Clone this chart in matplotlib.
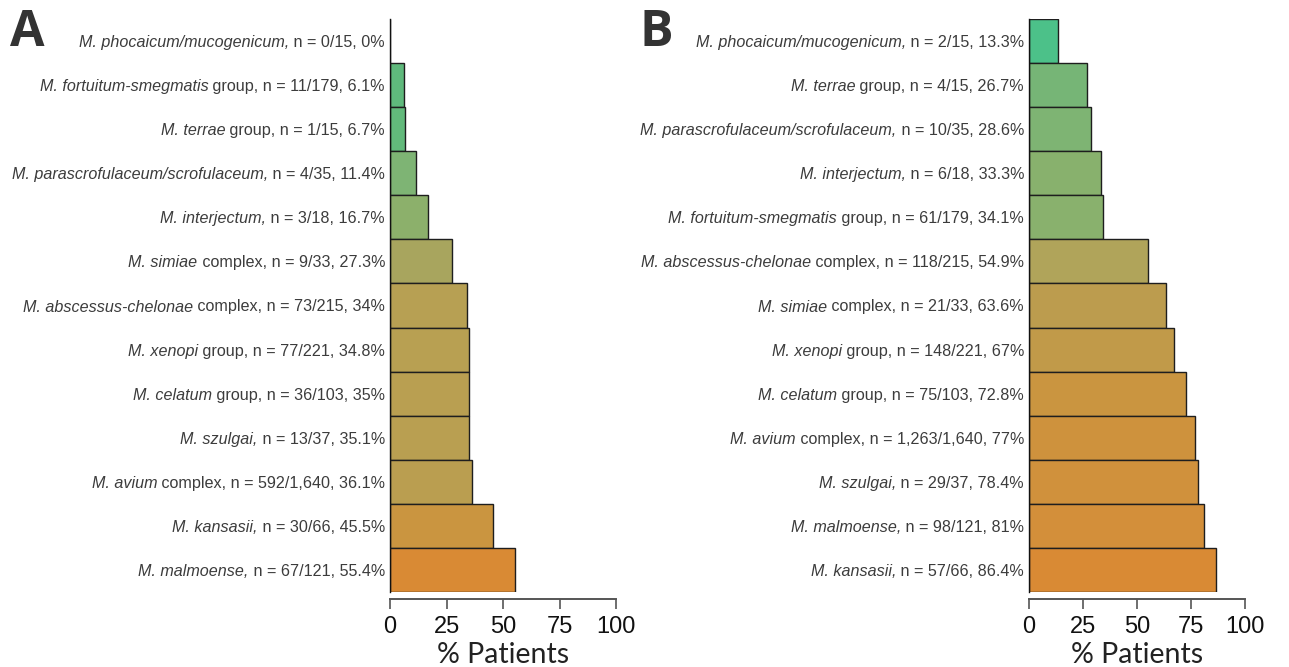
import matplotlib
matplotlib.use("Agg")
import matplotlib.pyplot as plt
from matplotlib.colors import LinearSegmentedColormap, Normalize
from matplotlib.transforms import blended_transform_factory

# ---------------- data ----------------
names_A = ["M. phocaicum/mucogenicum", "M. fortuitum-smegmatis", "M. terrae",
           "M. parascrofulaceum/scrofulaceum", "M. interjectum", "M. simiae",
           "M. abscessus-chelonae", "M. xenopi", "M. celatum", "M. szulgai",
           "M. avium", "M. kansasii", "M. malmoense"]
suffix_A = ["", " group", " group", "", "", " complex", " complex", " group",
            " group", "", " complex", "", ""]
pos_A = [0, 11, 1, 4, 3, 9, 73, 77, 36, 13, 592, 30, 67]
tot_A = [15, 179, 15, 35, 18, 33, 215, 221, 103, 37, 1640, 66, 121]
pct_A = [0, 6.1, 6.7, 11.4, 16.7, 27.3, 34, 34.8, 35, 35.1, 36.1, 45.5, 55.4]

names_B = ["M. phocaicum/mucogenicum", "M. terrae", "M. parascrofulaceum/scrofulaceum",
           "M. interjectum", "M. fortuitum-smegmatis", "M. abscessus-chelonae",
           "M. simiae", "M. xenopi", "M. celatum", "M. avium", "M. szulgai",
           "M. malmoense", "M. kansasii"]
suffix_B = ["", " group", "", "", " group", " complex", " complex", " group",
            " group", " complex", "", "", ""]
pos_B = [2, 4, 10, 6, 61, 118, 21, 148, 75, 1263, 29, 98, 57]
tot_B = [15, 15, 35, 18, 179, 215, 33, 221, 103, 1640, 37, 121, 66]
pct_B = [13.3, 26.7, 28.6, 33.3, 34.1, 54.9, 63.6, 67, 72.8, 77, 78.4, 81, 86.4]

x_ticks = [0, 25, 50, 75, 100]
x_label = "% Patients"
panel_letters = ["A", "B"]

# ---------------- style ----------------
plt.rcParams['font.family'] = ['Liberation Sans', 'DejaVu Sans']

cmap = LinearSegmentedColormap.from_list("grn_org", [
    (0.00, "#4cc189"), (0.11, "#5fb97c"), (0.20, "#7db474"), (0.30, "#8cb06b"),
    (0.49, "#a8a55e"), (0.57, "#b0a45a"), (0.62, "#b8a052"), (0.70, "#bd9c4d"),
    (0.82, "#ca9540"), (0.92, "#d2903b"), (1.00, "#d98a34")])

TEXT = "#3c3c3c"
LABEL_SIZE = 11.6

W, H = 1289, 667
fig = plt.figure(figsize=(W / 100, H / 100), dpi=100)
renderer = fig.canvas.get_renderer()

panels = [
    (names_A, suffix_A, pos_A, tot_A, pct_A, 390, 616),
    (names_B, suffix_B, pos_B, tot_B, pct_B, 1029, 1245),
]
top_px, bot_px = 19, 592

for k, (names, suff, pos, tot, pct, x0, x1) in enumerate(panels):
    ax = fig.add_axes([x0 / W, 1 - bot_px / H, (x1 - x0) / W, (bot_px - top_px) / H])
    n = len(pct)
    ys = list(range(n))
    lo = min(pct) if min(pct) > 0 else 0
    norm = Normalize(vmin=lo, vmax=max(pct))
    colors = [cmap(norm(v)) for v in pct]
    ax.barh(ys, pct, height=1.0, color=colors, edgecolor="#1e1e1e", linewidth=1.0)
    ax.set_ylim(n - 0.5, -0.5)
    ax.set_xlim(0, 100)
    ax.set_yticks([])
    ax.set_xticks(x_ticks)
    ax.set_xticklabels([str(v) for v in x_ticks])
    ax.tick_params(axis="x", length=7, width=1.2, color="#555555", pad=5,
                   labelsize=17, labelcolor="#111111")
    for lab in ax.get_xticklabels():
        lab.set_fontfamily("Lato")
    ax.set_xlabel(x_label, fontsize=20.5, fontfamily="Lato", color="#222222", labelpad=3)
    for s in ["top", "right"]:
        ax.spines[s].set_visible(False)
    ax.spines["bottom"].set_position(("outward", 5))
    ax.spines["bottom"].set_color("#555555")
    ax.spines["bottom"].set_linewidth(1.4)
    ax.spines["left"].set_color("#111111")
    ax.spines["left"].set_linewidth(1.0)

    # category labels: italic species name + regular remainder
    trans = blended_transform_factory(fig.transFigure, ax.transData)
    xr = (x0 - 5) / W
    for y, name, sf, p, t, v in zip(ys, names, suff, pos, tot, pct):
        if sf == "":
            it_part = name + ","
            rg_part = f" n = {p:,}/{t:,}, {v:g}%"
        else:
            it_part = name
            rg_part = f"{sf}, n = {p:,}/{t:,}, {v:g}%"
        t2 = fig.text(xr, y, rg_part, transform=trans, ha="right", va="center_baseline",
                      fontsize=LABEL_SIZE, color=TEXT)
        w = t2.get_window_extent(renderer).width
        fig.text(xr - w / W, y, it_part, transform=trans, ha="right",
                 va="center_baseline", fontsize=LABEL_SIZE, color=TEXT, style="italic")

fig.text(10 / W, 1 - 33 / H, panel_letters[0], fontsize=36, fontweight="bold",
         fontfamily="Open Sans", color="#333333", va="center", ha="left")
fig.text(640 / W, 1 - 33 / H, panel_letters[1], fontsize=36, fontweight="bold",
         fontfamily="Open Sans", color="#333333", va="center", ha="left")

fig.savefig("out.png", dpi=100)
